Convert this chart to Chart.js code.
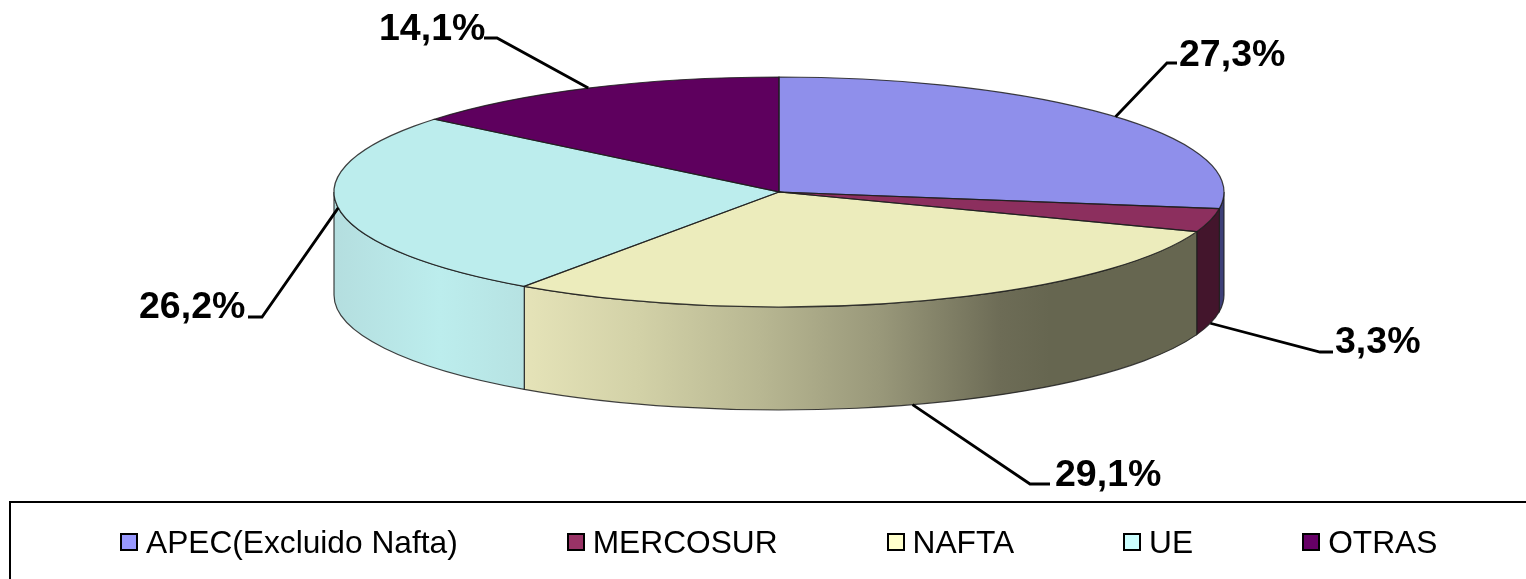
<!DOCTYPE html>
<html>
<head>
<meta charset="utf-8">
<title>Pie</title>
<script src="https://cdn.jsdelivr.net/npm/chart.js@4"></script>
<style>
    html, body { margin: 0; padding: 0; overflow: hidden; background: #fff; }
    #wrap { position: relative; width: 1526px; height: 579px; overflow: hidden; }
    #legend {
        position: absolute; left: 9px; top: 501px; width: 1600px; height: 78px;
        border-top: 2.5px solid #000; border-left: 2.5px solid #000;
        display: flex; align-items: center; padding-left: 109px;
        font: 31.7px "Liberation Sans", Arial, sans-serif; color: #000;
    }
    #legend .item { display: flex; align-items: center; margin-right: 109px; white-space: nowrap; }
    #legend .box { width: 18px; height: 18px; border: 2px solid #000; box-sizing: border-box; margin-right: 8px; }
</style>
</head>
<body>
<div id="wrap">
    <canvas id="pieChart" width="1526" height="579"></canvas>
    <div id="legend"></div>
</div>
<script>
const categories = ["APEC(Excluido Nafta)", "MERCOSUR", "NAFTA", "UE", "OTRAS"];
const shares = [27.3, 3.3, 29.1, 26.2, 14.1];

const topColors = ["#8f8feb", "#8c2f5e", "#ececbc", "#bceded", "#5e005e"];
const legendColors = ["#9999ff", "#993366", "#ffffcc", "#ccffff", "#660066"];

// wall shading per slice, [x, colour] stops along the page
const wallStops = [
    [[1200, "#3d3f78"], [1224, "#3d3f78"]],
    [[1190, "#43152c"], [1224, "#43152c"]],
    [[525, "#e5e3b8"], [640, "#d2d1a7"], [760, "#b8b792"], [880, "#99987a"], [1000, "#6d6c56"], [1050, "#666650"], [1200, "#666650"]],
    [[334, "#b4dedf"], [440, "#bceded"], [525, "#b6e2e2"]],
    [[334, "#000000"], [1224, "#000000"]]
];

// elbow of each leader line and centre-left of its text
const leaders = [
    { elbow: [1167, 63], end: [1177, 63], text: [1179, 56], onWall: false },
    { elbow: [1320, 352], end: [1333, 352], text: [1335, 343], onWall: true },
    { elbow: [1030, 484], end: [1050, 484], text: [1055, 476], onWall: true },
    { elbow: [262, 317], end: [248, 317], text: [139, 308], onWall: false },
    { elbow: [497, 38], end: [484, 38], text: [379, 30], onWall: false }
];

const squash = 115 / 445;
const depth = 103;

function wallPath(ctx, arc, from, to) {
    let ry = arc.outerRadius * squash;
    ctx.beginPath();
    ctx.ellipse(arc.x, arc.y, arc.outerRadius, ry, 0, from, to);
    ctx.ellipse(arc.x, arc.y + depth, arc.outerRadius, ry, 0, to, from, true);
    ctx.closePath();
}

const pie3d = {
    id: "pie3d",
    beforeDatasetsDraw(chart) {
        const ctx = chart.ctx;
        const arcs = chart.getDatasetMeta(0).data;

        // side wall, only the front half can be seen
        arcs.forEach((arc, i) => {
            let from = Math.max(arc.startAngle, 0);
            let to = Math.min(arc.endAngle, Math.PI);
            if (to <= from) return;
            let grad = ctx.createLinearGradient(arc.x - arc.outerRadius, 0, arc.x + arc.outerRadius, 0);
            wallStops[i].forEach(s => {
                grad.addColorStop((s[0] - (arc.x - arc.outerRadius)) / (2 * arc.outerRadius), s[1]);
            });
            wallPath(ctx, arc, from, to);
            ctx.fillStyle = grad;
            ctx.fill();
            ctx.lineWidth = 1.2;
            ctx.strokeStyle = "rgba(30,30,30,0.85)";
            ctx.stroke();
        });

        // squash the round pie the library draws into the top face
        let c = arcs[0];
        ctx.save();
        ctx.translate(c.x, c.y);
        ctx.scale(1, squash);
        ctx.translate(-c.x, -c.y);
    },
    afterDatasetsDraw(chart) {
        const ctx = chart.ctx;
        ctx.restore();

        const arcs = chart.getDatasetMeta(0).data;
        arcs.forEach(arc => {
            let ry = arc.outerRadius * squash;
            ctx.beginPath();
            ctx.moveTo(arc.x, arc.y);
            ctx.ellipse(arc.x, arc.y, arc.outerRadius, ry, 0, arc.startAngle, arc.endAngle);
            ctx.closePath();
            ctx.lineWidth = 1.2;
            ctx.strokeStyle = "rgba(30,30,30,0.85)";
            ctx.stroke();
        });

        ctx.save();
        ctx.font = 'bold 37.5px "Liberation Sans", Arial, sans-serif';
        ctx.fillStyle = "#000";
        ctx.textAlign = "left";
        ctx.textBaseline = "middle";
        arcs.forEach((arc, i) => {
            let mid = (arc.startAngle + arc.endAngle) / 2;
            let l = leaders[i];
            let ax = arc.x + Math.cos(mid) * arc.outerRadius;
            let ay = arc.y + Math.sin(mid) * arc.outerRadius * squash + (l.onWall ? depth : 0);
            ctx.beginPath();
            ctx.moveTo(ax, ay);
            ctx.lineTo(l.elbow[0], l.elbow[1]);
            ctx.lineTo(l.end[0], l.end[1]);
            ctx.lineWidth = 2.8;
            ctx.strokeStyle = "#000";
            ctx.stroke();
            ctx.fillText(shares[i].toFixed(1).replace(".", ",") + "%", l.text[0], l.text[1]);
        });
        ctx.restore();
    }
};

new Chart(document.getElementById("pieChart"), {
    type: "pie",
    data: {
        labels: categories,
        datasets: [{
            data: shares,
            backgroundColor: topColors,
            borderWidth: 0,
            clip: false
        }]
    },
    options: {
        responsive: false,
        animation: false,
        radius: 445,
        events: [],
        layout: { padding: { left: 32, top: 0, right: 0, bottom: 195 } },
        plugins: {
            legend: { display: false },
            tooltip: { enabled: false }
        }
    },
    plugins: [pie3d]
});

categories.forEach((name, i) => {
    let item = document.createElement("div");
    item.className = "item";
    let box = document.createElement("span");
    box.className = "box";
    box.style.background = legendColors[i];
    item.appendChild(box);
    item.appendChild(document.createTextNode(name));
    document.getElementById("legend").appendChild(item);
});
</script>
</body>
</html>
